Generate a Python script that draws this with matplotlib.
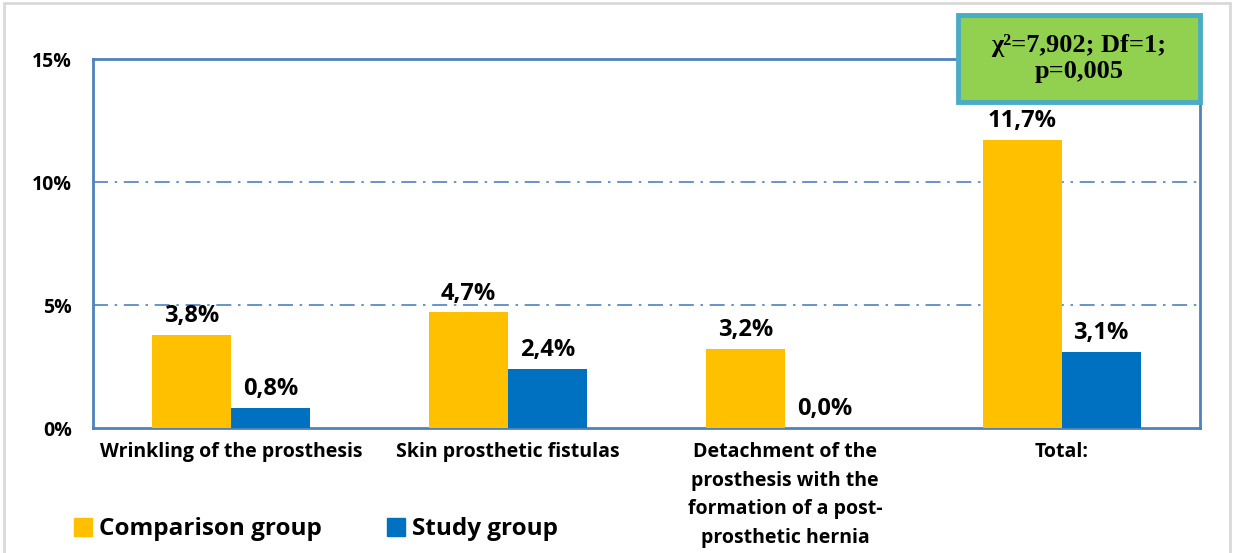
import matplotlib.pyplot as plt
import matplotlib.patches as mpatches
import numpy as np

categories = ['Wrinkling of the prosthesis', 'Skin prosthetic fistulas',
              'Detachment of the\nprosthesis with the\nformation of a post-\nprosthetic hernia',
              'Total:']
comparison = [3.8, 4.7, 3.2, 11.7]
study = [0.8, 2.4, 0.0, 3.1]
series_names = ['Comparison group', 'Study group']
yticks = [0, 5, 10, 15]

c_orange = '#FFC000'
c_blue = '#0070C0'
c_axis = '#4F81BD'
font = 'Open Sans'

fig = plt.figure(figsize=(12.35, 5.53), dpi=100)
ax = fig.add_axes([0.0753, 0.226, 0.8964, 0.667])

x = np.arange(len(categories))
w = 0.285
b1 = ax.bar(x - w / 2, comparison, w, color=c_orange, zorder=3)
b2 = ax.bar(x + w / 2, study, w, color=c_blue, zorder=3)

for bars, vals in [(b1, comparison), (b2, study)]:
    for r, v in zip(bars, vals):
        ax.annotate(f'{v:.1f}%'.replace('.', ','), (r.get_x() + r.get_width() / 2, v),
                    xytext=(0, 5), textcoords='offset points',
                    ha='center', va='bottom', fontsize=17, fontweight='bold', family=font)

ax.set_xlim(-0.5, 3.5)
ax.set_ylim(0, 15)
ax.set_yticks(yticks)
ax.set_yticklabels([f'{t}%' for t in yticks], fontsize=14, fontweight='bold', family=font)
ax.set_xticks(x)
ax.set_xticklabels(categories, fontsize=14, fontweight='bold', family=font, va='top',
                   linespacing=1.58)
ax.tick_params(length=0)
ax.tick_params(axis='y', pad=15)
ax.tick_params(axis='x', pad=10)
for t in [5, 10]:
    ax.axhline(t, color=c_axis, lw=1.2, ls=(0, (9, 4, 1.5, 4)), zorder=1)
for s in ax.spines.values():
    s.set_color(c_axis)
    s.set_linewidth(2)

# stats box
fig.patches.append(mpatches.Rectangle((0.7757, 0.8156), 0.196, 0.1574, transform=fig.transFigure,
                                      fc='#92D050', ec='#4BACC6', lw=3.5, zorder=5))
fig.text(0.8737, 0.894, 'χ²=7,902; Df=1;\np=0,005', ha='center', va='center', fontsize=19,
         fontweight='bold', family='Liberation Serif', linespacing=1.15, zorder=6)

# legend
handles = [mpatches.Patch(color=c_orange), mpatches.Patch(color=c_blue)]
fig.legend(handles, series_names, loc='lower left', bbox_to_anchor=(0.042, -0.018), ncol=2,
           frameon=False, handlelength=0.75, handleheight=0.75, handletextpad=0.3,
           columnspacing=2.65, prop={'family': font, 'weight': 'bold', 'size': 17.5})

fig.patches.append(mpatches.Rectangle((0.003, -0.1), 0.993, 1.094, transform=fig.transFigure,
                                      fill=False, ec='#D9D9D9', lw=2))

plt.savefig('out.png', dpi=100)
